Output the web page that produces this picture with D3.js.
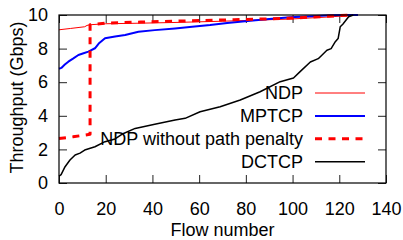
<!DOCTYPE html>
<html lang="en">
<head>
  <meta charset="UTF-8">
  <title>Throughput per flow</title>
  <style>
    body { margin: 0; background: #fff; }
    text { font-family: "Liberation Sans", Arial, sans-serif; }
  </style>
</head>
<body>
  <svg class="chart"></svg>
  <script src="https://cdn.jsdelivr.net/npm/d3@7"></script>
  <script>
    var w = 403,
        h = 240,
        fontSize = 18;

    // flow numbers / throughput (Gbps)
    var ndpX = [0, 5, 11, 12, 13.3, 20, 30, 48, 70, 99, 115, 128];
    var ndpY = [9.12, 9.2, 9.3, 9.38, 9.42, 9.48, 9.5, 9.55, 9.63, 9.76, 9.88, 10];

    var mptcpX = [0, 1, 2.5, 4, 6, 8.3, 10.5, 12.6, 15.4, 17, 19.7, 24, 28.3, 34, 41, 49.7, 57, 64.7, 72, 81.9, 90, 99, 108, 116, 122, 128];
    var mptcpY = [6.8, 6.85, 7.05, 7.22, 7.4, 7.62, 7.72, 7.82, 8.02, 8.3, 8.61, 8.72, 8.81, 9.0, 9.1, 9.2, 9.3, 9.4, 9.52, 9.66, 9.76, 9.86, 9.93, 9.98, 10, 10];

    var nppX = [0, 6, 13.3, 13.3, 20, 35, 52, 75, 97.6, 112, 125];
    var nppY = [2.65, 2.75, 2.9, 9.42, 9.52, 9.58, 9.64, 9.72, 9.8, 9.9, 10];

    var dctcpX = [0, 0.9, 2.6, 4.7, 6.9, 9, 11, 15.4, 19.7, 24, 26.9, 32.6, 41, 49.7, 54, 60.4, 69, 77.6, 86.1, 94.7, 100.4, 103, 107.6, 111, 114.7, 116.5, 118.3, 119.5, 120.4, 121.5, 124, 126];
    var dctcpY = [0.4, 0.5, 0.97, 1.37, 1.67, 1.78, 1.96, 2.16, 2.46, 2.62, 2.9, 3.25, 3.5, 3.75, 3.85, 4.24, 4.54, 4.94, 5.43, 6.03, 6.25, 6.6, 7.2, 7.4, 7.9, 8.0, 8.41, 8.6, 9.3, 9.45, 9.9, 10];

    var xTicks = [0, 20, 40, 60, 80, 100, 120, 140];
    var yTicks = [0, 2, 4, 6, 8, 10];

    var series = [
      { name: "NDP", xs: ndpX, ys: ndpY, color: "#ff0000", width: 1, dash: null },
      { name: "MPTCP", xs: mptcpX, ys: mptcpY, color: "#0000ff", width: 2, dash: null },
      { name: "NDP without path penalty", xs: nppX, ys: nppY, color: "#ff0000", width: 3, dash: "7,6.5" },
      { name: "DCTCP", xs: dctcpX, ys: dctcpY, color: "#000000", width: 1.5, dash: null }
    ];

    var m = { left: 59, right: 17, top: 15, bottom: 57 };

    var svg = d3.select(".chart")
      .attr("width", w)
      .attr("height", h);

    var x = d3.scaleLinear().domain([0, 140]).range([m.left, w - m.right]);
    var y = d3.scaleLinear().domain([0, 10]).range([h - m.bottom, m.top]);
    var tickLen = 8;

    // tick marks on all four sides, pointing inwards
    var axes = [
      d3.axisBottom(x).tickValues(xTicks).tickSizeInner(-tickLen).tickSizeOuter(0).tickPadding(19),
      d3.axisTop(x).tickValues(xTicks).tickSizeInner(-tickLen).tickSizeOuter(0).tickFormat(""),
      d3.axisLeft(y).tickValues(yTicks).tickSizeInner(-tickLen).tickSizeOuter(0).tickPadding(11),
      d3.axisRight(y).tickValues(yTicks).tickSizeInner(-tickLen).tickSizeOuter(0).tickFormat("")
    ];
    var pos = [
      [0, h - m.bottom], [0, m.top], [m.left, 0], [w - m.right, 0]
    ];
    axes.forEach(function (a, i) {
      var g = svg.append("g")
        .attr("transform", "translate(" + pos[i][0] + "," + pos[i][1] + ")")
        .call(a);
      g.select(".domain").remove();
      g.selectAll(".tick line").attr("stroke", "#222").attr("stroke-width", 1);
      g.selectAll(".tick text")
        .attr("font-size", fontSize)
        .attr("font-family", "Liberation Sans, Arial, sans-serif")
        .attr("fill", "#000");
    });

    var line = d3.line()
      .x(function (d) { return x(d[0]); })
      .y(function (d) { return y(d[1]); });

    series.forEach(function (s) {
      var pts = s.xs.map(function (v, i) { return [v, s.ys[i]]; });
      svg.append("path")
        .datum(pts)
        .attr("d", line)
        .attr("fill", "none")
        .attr("stroke", s.color)
        .attr("stroke-width", s.width)
        .attr("stroke-dasharray", s.dash)
        .attr("stroke-linejoin", "round");
    });

    // legend, text right-aligned with a line sample
    var leg = svg.append("g");
    series.forEach(function (s, i) {
      var ly = 93 + i * 22.9;
      leg.append("text")
        .text(s.name)
        .attr("x", 303)
        .attr("y", ly)
        .attr("dy", "0.36em")
        .attr("text-anchor", "end")
        .attr("font-size", fontSize);
      leg.append("line")
        .attr("x1", 315).attr("x2", 365)
        .attr("y1", ly).attr("y2", ly)
        .attr("stroke", s.color)
        .attr("stroke-width", s.width)
        .attr("stroke-dasharray", s.dash);
    });

    // frame
    svg.append("rect")
      .attr("x", m.left).attr("y", m.top)
      .attr("width", w - m.left - m.right)
      .attr("height", h - m.top - m.bottom)
      .attr("fill", "none")
      .attr("stroke", "#000")
      .attr("stroke-width", 1.2);

    svg.append("text")
      .text("Flow number")
      .attr("x", (m.left + w - m.right) / 2)
      .attr("y", 236)
      .attr("text-anchor", "middle")
      .attr("font-size", fontSize);

    svg.append("text")
      .text("Throughput (Gbps)")
      .attr("transform", "translate(23,97.5) rotate(-90)")
      .attr("text-anchor", "middle")
      .attr("font-size", fontSize);
  </script>
</body>
</html>
